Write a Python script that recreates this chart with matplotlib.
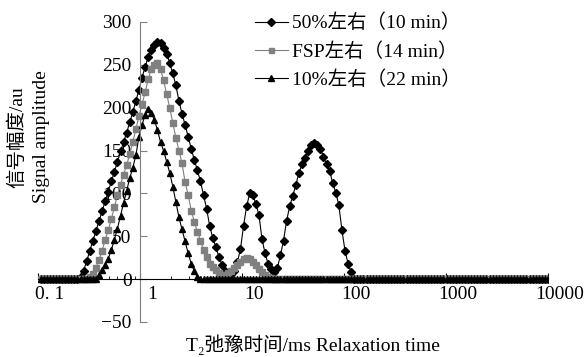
import numpy as np
import matplotlib
matplotlib.use("Agg")
import matplotlib.pyplot as plt
import matplotlib.transforms as mtransforms
from matplotlib.ticker import LogLocator, NullFormatter

plt.rcParams['font.family'] = ['Liberation Serif', 'Noto Sans CJK SC', 'DejaVu Sans']

# T2 grid of the inversion (200 log-spaced points, 0.01-10000 ms), shown from 0.1 ms up
t2 = np.logspace(-2, 4, 200)[34:]

amp_50 = [0] * 13 + [
    2, 10, 21, 33, 45, 56, 68, 79, 91, 102, 114, 125, 137, 149, 160, 171, 183,
    195, 208, 221, 235, 248, 259, 267, 273, 277, 275, 270, 263, 252, 240, 226,
    208, 193, 180, 166, 152, 139, 127, 114, 98, 82, 62, 48, 37, 26, 17, 9, 5,
    6, 10, 20, 35, 62, 85, 100, 98, 88, 75, 47, 30, 18, 12, 8,
    13, 28, 45, 68, 85, 97, 110, 124, 134, 141, 149, 156, 159, 156, 152, 143,
    134, 126, 112, 101, 86, 57, 33, 18, 8] + [0] * 64
amp_fsp = [0] * 16 + [
    2, 6, 13, 22, 33, 46, 57, 70, 84, 98, 110, 122, 133, 146, 160, 175, 190,
    204, 218, 233, 245, 250, 252, 245, 232, 216, 200, 182, 165, 150, 135, 113,
    98, 80, 67, 55, 45, 34, 26, 18, 14, 11, 7, 5, 5, 7,
    10, 13, 16, 20, 23, 25, 23, 20, 16, 12, 8, 5, 3, 1] + [0] * 90
amp_10 = [0] * 19 + [
    5, 11, 17, 24, 34, 46, 59, 74, 89, 103, 118, 130, 145, 166, 180, 192, 198,
    194, 186, 174, 160, 150, 137, 124, 108, 90, 72, 58, 44, 30, 18, 9, 3] + [0] * 114

labels = ['50%左右（10 min）', 'FSP左右（14 min）', '10%左右（22 min）']
xticks = [0.1, 1, 10, 100, 1000, 10000]
xtick_labels = ['0. 1', '1', '10', '100', '1000', '10000']
yticks = [-50, 0, 50, 100, 150, 200, 250, 300]

fig = plt.figure(figsize=(5.86, 3.57), dpi=100)
ax = fig.add_axes([38 / 586, 35 / 357, 510 / 586, 300 / 357])

ax.plot(t2, amp_50, color='black', lw=0.8, marker='D', ms=4.5, label=labels[0])
ax.plot(t2, amp_fsp, color='#808080', lw=0.8, marker='s', ms=4.5, label=labels[1])
ax.plot(t2, amp_10, color='black', lw=0.8, marker='^', ms=5, label=labels[2])

ax.set_xscale('log')
ax.set_xlim(0.1, 10000)
ax.set_ylim(-50, 300)

for s in ['top', 'right']:
    ax.spines[s].set_visible(False)
ax.spines['left'].set_position(('data', 1))
ax.spines['left'].set_color('#808080')
ax.spines['bottom'].set_position(('data', 0))
ax.spines['bottom'].set_color('black')

ax.set_yticks(yticks)
ax.tick_params(axis='y', direction='in', length=5, color='#808080', labelsize=14, pad=6)
ax.set_xticks(xticks)
ax.set_xticklabels(xtick_labels)
ax.xaxis.set_minor_locator(LogLocator(base=10, subs=np.arange(2, 10)))
ax.xaxis.set_minor_formatter(NullFormatter())
ax.tick_params(axis='x', which='major', direction='in', length=4, labelsize=14, pad=5)
ax.tick_params(axis='x', which='minor', direction='in', length=2)

# x labels sit a little right of their ticks in the original
shift = mtransforms.ScaledTranslation(12 / 100, 0, fig.dpi_scale_trans)
for lab in ax.get_xticklabels():
    lab.set_transform(lab.get_transform() + shift)

ax.legend(loc='upper left', bbox_to_anchor=(245 / 586, 1 - 4 / 357),
          bbox_transform=fig.transFigure, frameon=False, fontsize=14,
          handlelength=1.7, handletextpad=0.2, labelspacing=0.5,
          borderpad=0, markerscale=0.8)

fig.text(17 / 586, 1 - 137 / 357, '信号幅度/au', rotation=90, ha='center', va='center', fontsize=14)
fig.text(42 / 586, 1 - 137 / 357, 'Signal amplitude', rotation=90, ha='center', va='center', fontsize=14)
fig.text(313 / 586, 1 - 345 / 357, 'T₂弛豫时间/ms Relaxation time', ha='center', va='center', fontsize=14)

fig.savefig('out.png', dpi=100)
